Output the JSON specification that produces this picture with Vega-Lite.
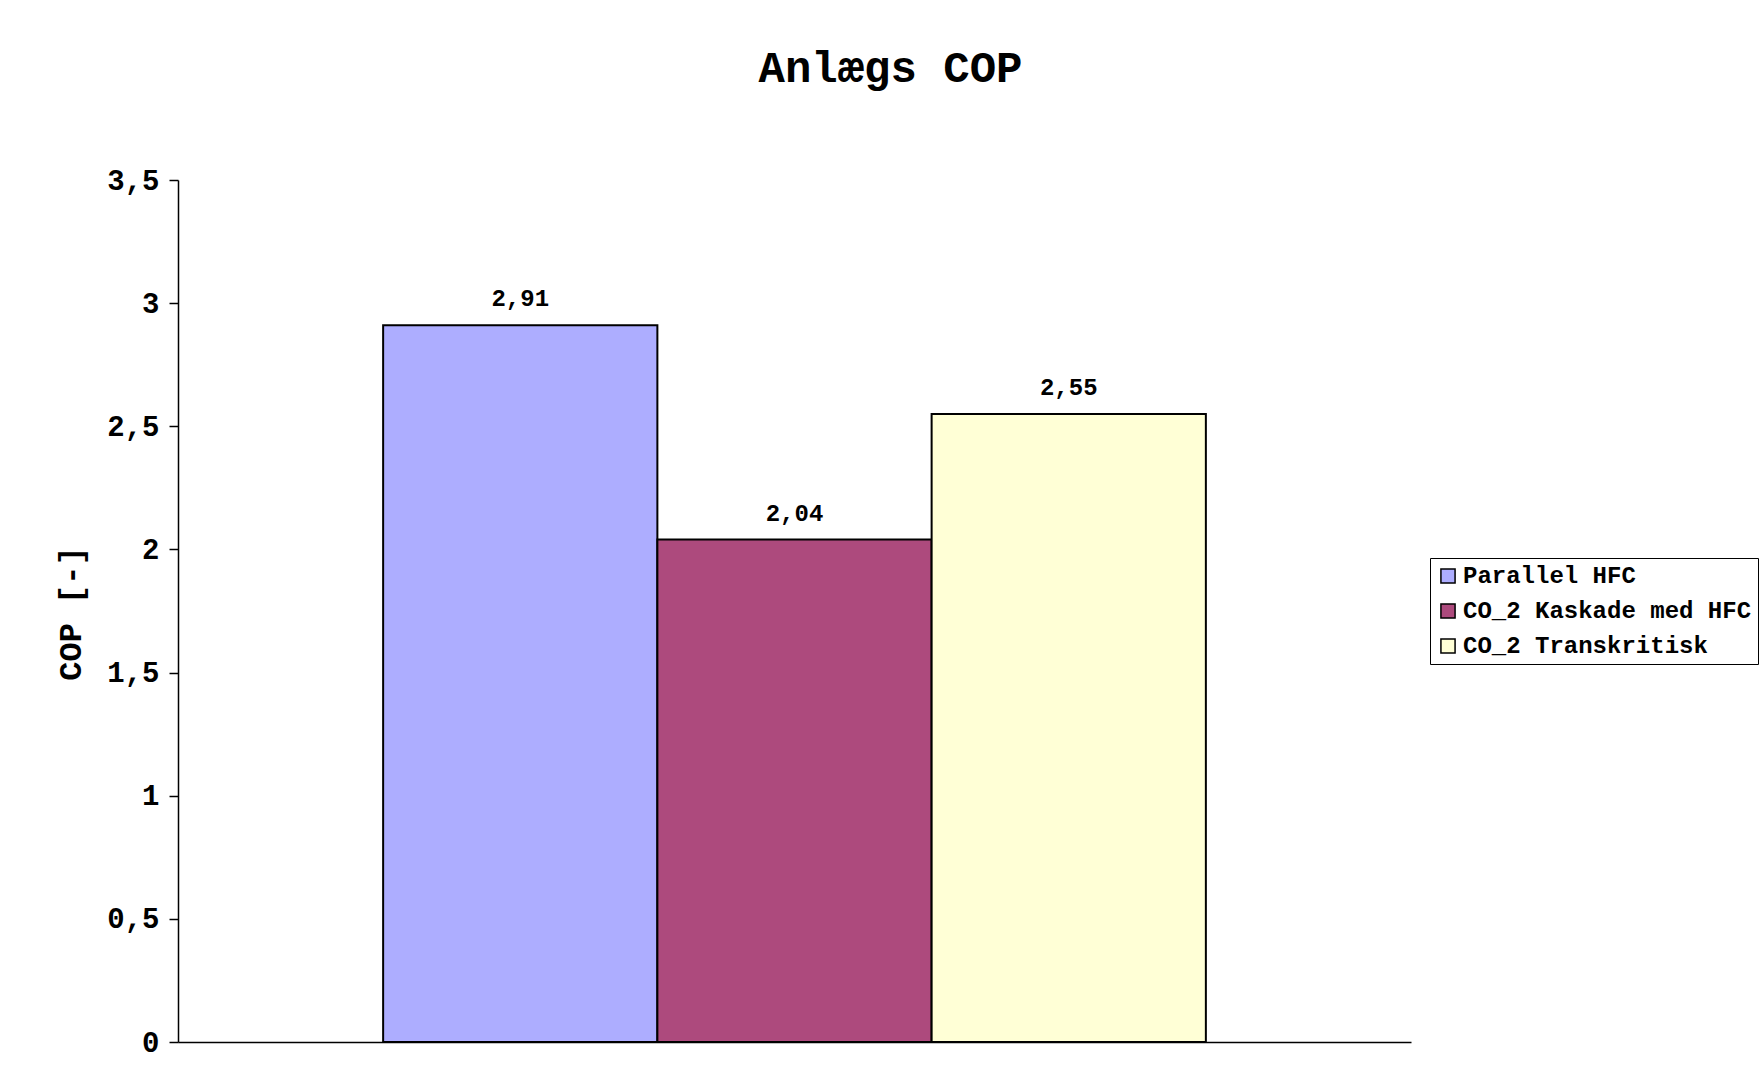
{
  "$schema": "https://vega.github.io/schema/vega-lite/v6.json",
  "autosize": {"type": "none"},
  "padding": {"left": 178, "top": 180, "right": 351, "bottom": 48},
  "width": 1233,
  "height": 862,
  "background": "#ffffff",
  "title": {
    "text": "Anlægs COP",
    "anchor": "middle",
    "dx": 96,
    "offset": 75,
    "font": "Liberation Mono",
    "fontSize": 44,
    "fontWeight": "bold",
    "color": "#000000"
  },
  "data": {
    "values": [
      {"series": "Parallel HFC", "cop": 2.91},
      {"series": "CO_2 Kaskade med HFC", "cop": 2.04},
      {"series": "CO_2 Transkritisk", "cop": 2.55}
    ]
  },
  "encoding": {
    "x": {
      "field": "series",
      "type": "nominal",
      "sort": null,
      "scale": {"paddingInner": 0, "paddingOuter": 0.748},
      "axis": {"labels": false, "ticks": false, "title": null, "domainColor": "#000000", "domainWidth": 1.5}
    },
    "y": {
      "field": "cop",
      "type": "quantitative",
      "scale": {"domain": [0, 3.5], "nice": false},
      "axis": {
        "values": [0, 0.5, 1, 1.5, 2, 2.5, 3, 3.5],
        "format": ".1~f",
        "grid": false,
        "title": "COP [-]",
        "titleFont": "Liberation Mono",
        "titleFontSize": 32,
        "titleFontWeight": "bold",
        "titleColor": "#000000",
        "titleX": -108,
        "titleY": 433,
        "titleAngle": -90,
        "titleAlign": "center",
        "titleBaseline": "middle",
        "labelFont": "Liberation Mono",
        "labelFontSize": 29,
        "labelFontWeight": "bold",
        "labelColor": "#000000",
        "labelPadding": 10,
        "tickSize": 9,
        "tickColor": "#000000",
        "tickWidth": 1.5,
        "domainColor": "#000000",
        "domainWidth": 1.5
      }
    }
  },
  "layer": [
    {
      "mark": {"type": "bar", "stroke": "#000000", "strokeWidth": 2},
      "encoding": {
        "color": {
          "field": "series",
          "type": "nominal",
          "sort": null,
          "scale": {
            "domain": ["Parallel HFC", "CO_2 Kaskade med HFC", "CO_2 Transkritisk"],
            "range": ["#ADADFF", "#AD4A7D", "#FFFFD6"]
          },
          "legend": {
            "title": null,
            "orient": "none",
            "legendX": 1252,
            "legendY": 378,
            "direction": "vertical",
            "symbolType": "square",
            "symbolSize": 200,
            "symbolStrokeColor": "#000000",
            "symbolStrokeWidth": 1.5,
            "symbolOpacity": 1,
            "labelFont": "Liberation Mono",
            "labelFontSize": 24,
            "labelFontWeight": "bold",
            "labelColor": "#000000",
            "labelOffset": 3,
            "labelLimit": 0,
            "rowPadding": 11,
            "padding": 6,
            "strokeColor": "#000000",
            "fillColor": "#ffffff"
          }
        }
      }
    },
    {
      "mark": {
        "type": "text",
        "baseline": "bottom",
        "dy": -14,
        "font": "Liberation Mono",
        "fontSize": 24,
        "fontWeight": "bold",
        "color": "#000000"
      },
      "encoding": {
        "text": {"field": "cop", "type": "quantitative", "format": ".2f"}
      }
    }
  ],
  "config": {
    "locale": {
      "number": {"decimal": ",", "thousands": ".", "grouping": [3], "currency": ["", " kr."]}
    },
    "view": {"stroke": null}
  }
}
